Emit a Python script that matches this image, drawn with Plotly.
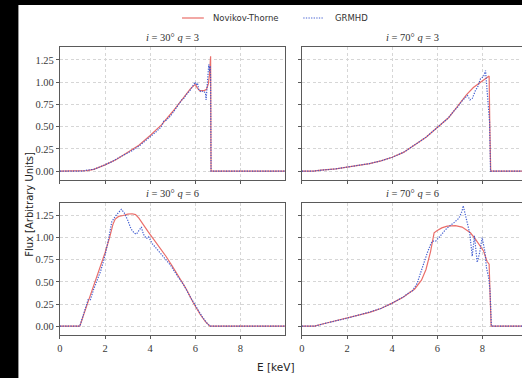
import plotly.graph_objects as go

W, H = 522, 378

# ---- spectra: energy (keV) and normalised flux -------------------------
# i = 30 deg, q = 3
e_nt_30_3 = [0, 1.0, 1.2, 1.5, 2.0, 2.5, 3.0, 3.5, 4.0, 4.5, 5.0, 5.5, 5.8, 6.0,
             6.1, 6.2, 6.4, 6.5, 6.58, 6.63, 6.68, 6.70, 10]
f_nt_30_3 = [0, 0, 0.005, 0.02, 0.07, 0.13, 0.21, 0.29, 0.40, 0.52, 0.67, 0.84, 0.93,
             0.975, 0.93, 0.905, 0.905, 0.92, 0.98, 1.08, 1.29, 0, 0]
e_gr_30_3 = [0, 1.0, 1.2, 1.5, 1.8, 2.0, 2.3, 2.6, 2.9, 3.2, 3.5, 3.7, 3.9, 4.1, 4.3,
             4.5, 4.6, 4.7, 4.9, 5.1, 5.3, 5.4, 5.5, 5.6, 5.75, 5.9, 6.0, 6.05, 6.1,
             6.15, 6.25, 6.35, 6.45, 6.48, 6.52, 6.56, 6.6, 6.63, 6.66, 6.68, 6.70, 10]
f_gr_30_3 = [0, 0, 0.01, 0.02, 0.05, 0.07, 0.105, 0.15, 0.19, 0.23, 0.28, 0.32, 0.36,
             0.41, 0.45, 0.50, 0.56, 0.57, 0.62, 0.69, 0.76, 0.80, 0.82, 0.86, 0.90,
             0.96, 1.00, 0.97, 0.99, 0.92, 0.89, 0.90, 0.88, 0.80, 0.95, 1.10, 1.20,
             1.12, 1.18, 1.05, 0, 0]

# i = 70 deg, q = 3
e_nt_70_3 = [0, 0.5, 0.85, 1.5, 2.0, 2.6, 3.0, 3.5, 4.0, 4.5, 5.0, 5.5, 6.0, 6.5,
             6.75, 7.0, 7.3, 7.6, 7.8, 8.0, 8.2, 8.3, 8.33, 8.37, 10]
f_nt_70_3 = [0, 0, 0.01, 0.025, 0.045, 0.064, 0.085, 0.115, 0.155, 0.21, 0.29, 0.38,
             0.49, 0.60, 0.68, 0.76, 0.86, 0.94, 0.98, 1.02, 1.06, 1.07, 0.5, 0, 0]
e_gr_70_3 = [0, 0.5, 0.85, 1.5, 2.0, 2.6, 3.0, 3.5, 4.0, 4.5, 5.0, 5.5, 6.0, 6.5,
             6.75, 6.9, 7.1, 7.25, 7.34, 7.45, 7.56, 7.69, 7.8, 7.92, 8.05, 8.14,
             8.21, 8.27, 8.32, 8.36, 10]
f_gr_70_3 = [0, 0, 0.01, 0.025, 0.045, 0.065, 0.085, 0.115, 0.155, 0.21, 0.29, 0.38,
             0.49, 0.60, 0.68, 0.72, 0.79, 0.83, 0.85, 0.80, 0.82, 0.905, 0.95, 1.04,
             1.06, 1.13, 0.87, 0.72, 0.55, 0, 0]

# i = 30 deg, q = 6
e_nt_30_6 = [0, 0.88, 1.2, 1.5, 1.8, 2.0, 2.2, 2.35, 2.45, 2.6, 2.8, 3.0, 3.2, 3.35,
             3.5, 3.7, 3.9, 4.1, 4.4, 4.7, 5.0, 5.3, 5.6, 5.9, 6.2, 6.45, 6.65, 10]
f_nt_30_6 = [0, 0, 0.24, 0.46, 0.68, 0.83, 1.0, 1.15, 1.21, 1.24, 1.25, 1.265, 1.27,
             1.26, 1.22, 1.14, 1.07, 1.0, 0.90, 0.79, 0.67, 0.55, 0.42, 0.27, 0.14,
             0.05, 0, 0]
e_gr_30_6 = [0, 0.88, 1.1, 1.25, 1.35, 1.5, 1.8, 2.0, 2.15, 2.3, 2.45, 2.6, 2.72,
             2.85, 3.0, 3.15, 3.3, 3.39, 3.5, 3.61, 3.7, 3.83, 3.93, 4.1, 4.3, 4.6,
             4.9, 5.2, 5.5, 5.8, 6.0, 6.3, 6.5, 6.65, 10]
f_gr_30_6 = [0, 0, 0.18, 0.30, 0.30, 0.42, 0.62, 0.80, 0.98, 1.18, 1.24, 1.29, 1.32,
             1.28, 1.20, 1.10, 1.05, 1.04, 1.08, 1.12, 1.04, 0.99, 1.01, 0.93, 0.87,
             0.78, 0.69, 0.57, 0.46, 0.32, 0.23, 0.11, 0.04, 0, 0]

# i = 70 deg, q = 6
e_nt_70_6 = [0, 0.56, 1.0, 1.5, 2.0, 2.5, 3.0, 3.5, 4.0, 4.5, 5.0, 5.3, 5.5, 5.7,
             5.8, 5.86, 6.0, 6.2, 6.44, 6.8, 7.1, 7.47, 7.7, 7.92, 8.05, 8.21, 8.3,
             8.35, 8.39, 10]
f_nt_70_6 = [0, 0, 0.03, 0.06, 0.09, 0.12, 0.155, 0.20, 0.26, 0.33, 0.42, 0.52, 0.64,
             0.84, 0.98, 1.055, 1.08, 1.11, 1.13, 1.135, 1.12, 1.055, 0.98, 0.90,
             0.85, 0.73, 0.70, 0.3, 0, 0]
e_gr_70_6 = [0, 0.56, 1.0, 2.0, 3.0, 3.5, 4.0, 4.3, 4.5, 4.7, 4.9, 5.1, 5.27, 5.4,
             5.56, 5.7, 5.78, 5.93, 6.05, 6.15, 6.3, 6.44, 6.6, 6.74, 6.96, 7.1, 7.15,
             7.25, 7.33, 7.44, 7.55, 7.65, 7.77, 7.88, 7.99, 8.12, 8.18, 8.28, 8.34,
             8.4, 10]
f_gr_70_6 = [0, 0, 0.03, 0.09, 0.16, 0.20, 0.26, 0.30, 0.33, 0.37, 0.40, 0.48, 0.62,
             0.72, 0.83, 0.92, 0.96, 0.96, 1.0, 1.02, 1.07, 1.11, 1.14, 1.17, 1.22,
             1.30, 1.36, 1.25, 1.17, 1.05, 0.79, 1.02, 0.72, 0.83, 1.0, 0.83, 0.66,
             0.55, 0.40, 0, 0]

panel_titles = ["<i>i</i> = 30° <i>q</i> = 3", "<i>i</i> = 70° <i>q</i> = 3",
                "<i>i</i> = 30° <i>q</i> = 6", "<i>i</i> = 70° <i>q</i> = 6"]
series_names = ["Novikov-Thorne", "GRMHD"]
x_ticks = [0, 2, 4, 6, 8, 10]
y_ticks = [0, 0.25, 0.5, 0.75, 1.0, 1.25]

panels = [
    (e_nt_30_3, f_nt_30_3, e_gr_30_3, f_gr_30_3),
    (e_nt_70_3, f_nt_70_3, e_gr_70_3, f_gr_70_3),
    (e_nt_30_6, f_nt_30_6, e_gr_30_6, f_gr_30_6),
    (e_nt_70_6, f_nt_70_6, e_gr_70_6, f_gr_70_6),
]

RED = "rgba(230,85,80,0.85)"
BLUE = "rgba(50,80,205,0.9)"
BLUE_DASH = "1.3px,1.3px"
FRAME = "#5a5a5a"
GRID = "#d6d6d6"
SERIF = "Liberation Serif"
SANS = "DejaVu Sans"


def px(x):
    return x / W


def py(y):
    return 1 - y / H


# panel geometry in pixels
col_x = [(57.3, 284.0), (300.7, 522.0)]
row_y = [(47.0, 180.0), (202.7, 335.0)]
keV_px = 22.68
y_range = [-0.1, 1.395]

fig = go.Figure()
layout = dict(
    width=W, height=H,
    margin=dict(l=0, r=0, t=0, b=0),
    paper_bgcolor="black", plot_bgcolor="white",
    showlegend=False,
    shapes=[], annotations=[],
)

# white canvas (the page is framed in black on the left and top)
layout["shapes"].append(dict(type="rect", xref="paper", yref="paper",
                             x0=px(15.5), x1=1, y0=0, y1=py(5), layer="below",
                             fillcolor="white", line=dict(width=0)))

for k, (ex, fx, eg, fg) in enumerate(panels):
    r, c = divmod(k, 2)
    idx = "" if k == 0 else str(k + 1)
    xa, ya = "x" + idx, "y" + idx
    x0, x1 = col_x[c]
    y0, y1 = row_y[r]
    xmax = (x1 - x0) / keV_px

    fig.add_trace(go.Scatter(x=ex, y=fx, mode="lines", name=series_names[0],
                             xaxis=xa, yaxis=ya,
                             line=dict(color=RED, width=1.2)))
    fig.add_trace(go.Scatter(x=eg, y=fg, mode="lines", name=series_names[1],
                             xaxis=xa, yaxis=ya,
                             line=dict(color=BLUE, width=1.2, dash=BLUE_DASH)))

    layout["xaxis" + idx] = dict(
        domain=[px(x0), px(x1)], anchor=ya, range=[0, xmax],
        tickvals=x_ticks, showticklabels=(r == 1),
        ticks="outside", ticklen=3, tickwidth=0.8, tickcolor=FRAME,
        showline=True, linecolor=FRAME, linewidth=1, mirror=True,
        showgrid=True, gridcolor=GRID, gridwidth=0.7, griddash="3px,2.5px",
        zeroline=False,
        tickfont=dict(family=SERIF, size=10.5, color="#3a3a3a"),
    )
    layout["yaxis" + idx] = dict(
        domain=[py(y1), py(y0)], anchor=xa, range=y_range,
        tickvals=y_ticks, tickformat=".2f", showticklabels=(c == 0),
        ticks="outside", ticklen=3, tickwidth=0.8, tickcolor=FRAME,
        showline=True, linecolor=FRAME, linewidth=1, mirror=(c == 0),
        showgrid=True, gridcolor=GRID, gridwidth=0.7, griddash="3px,2.5px",
        zeroline=False,
        tickfont=dict(family=SERIF, size=10.5, color="#3a3a3a"),
    )

    # panel title
    cx = (x0 + x1) / 2 if c == 0 else 412
    layout["annotations"].append(dict(
        text=panel_titles[k], xref="paper", yref="paper",
        x=px(cx), y=py(y0 - 2), xanchor="center", yanchor="bottom",
        showarrow=False, font=dict(family=SERIF, size=10.5, color="#333")))

# legend drawn across the top
legend_y = 18
layout["shapes"].append(dict(type="line", xref="paper", yref="paper",
                             x0=px(180), x1=px(202), y0=py(legend_y), y1=py(legend_y),
                             line=dict(color=RED, width=1.2)))
layout["shapes"].append(dict(type="line", xref="paper", yref="paper",
                             x0=px(302), x1=px(322), y0=py(legend_y), y1=py(legend_y),
                             line=dict(color=BLUE, width=1.2, dash=BLUE_DASH)))
layout["annotations"].append(dict(
    text=series_names[0], xref="paper", yref="paper", x=px(209), y=py(legend_y),
    xanchor="left", yanchor="middle", showarrow=False,
    font=dict(family=SANS, size=8.5, color="#333")))
layout["annotations"].append(dict(
    text=series_names[1], xref="paper", yref="paper", x=px(332), y=py(legend_y),
    xanchor="left", yanchor="middle", showarrow=False,
    font=dict(family=SANS, size=8.5, color="#333")))

# shared axis labels
layout["annotations"].append(dict(
    text="Flux [Arbitrary Units]", xref="paper", yref="paper", x=px(26), y=py(204),
    xanchor="center", yanchor="middle", textangle=-90, showarrow=False,
    font=dict(family=SANS, size=10, color="#222")))
layout["annotations"].append(dict(
    text="E [keV]", xref="paper", yref="paper", x=px(275), y=py(367),
    xanchor="center", yanchor="middle", showarrow=False,
    font=dict(family=SANS, size=10.5, color="#222")))

fig.update_layout(**layout)
fig.write_html("out.html")
